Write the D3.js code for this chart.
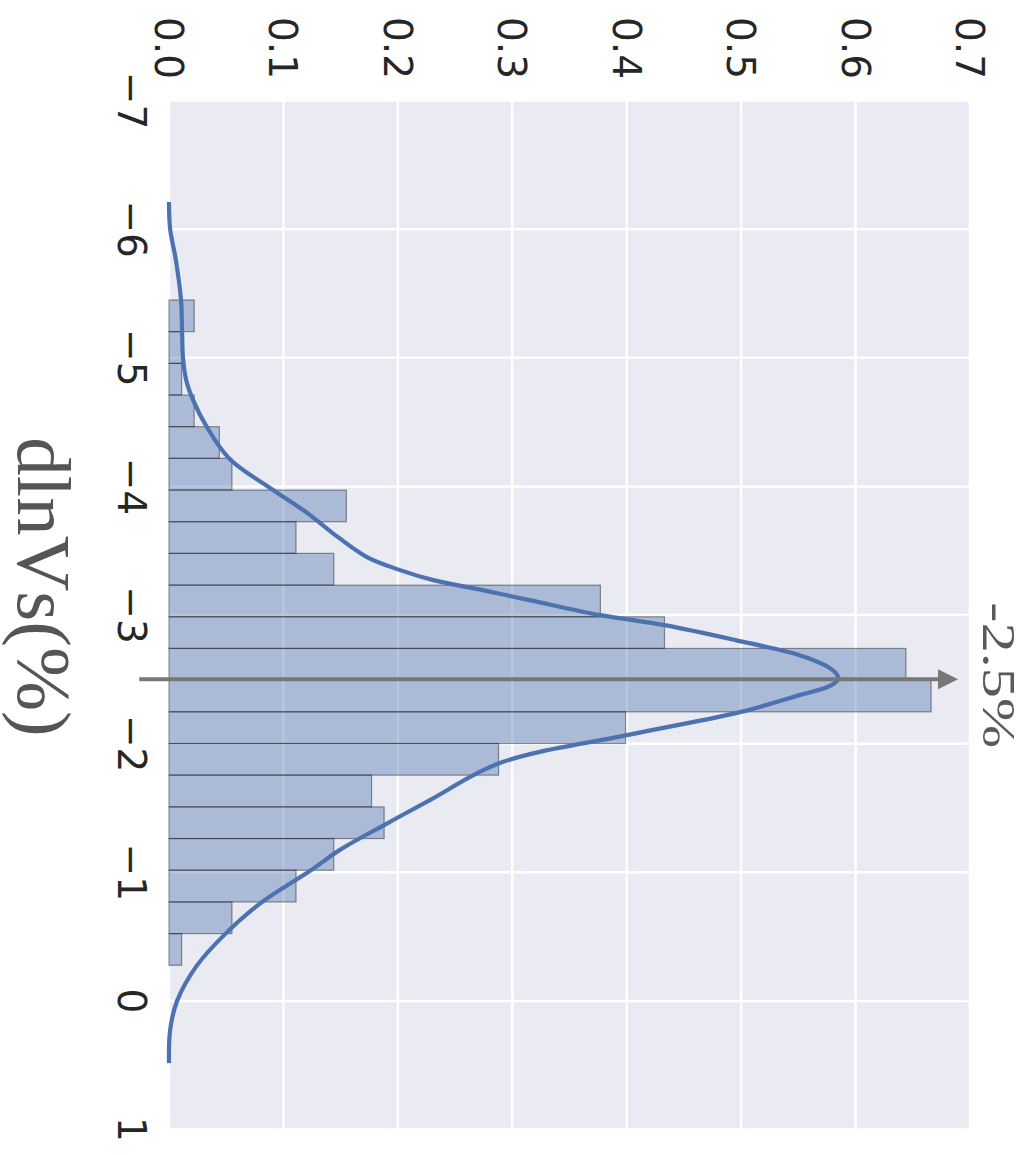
<!DOCTYPE html>
<html>
<head>
<meta charset="utf-8">
<script src="https://cdn.jsdelivr.net/npm/d3@7"></script>
<style>
  body { margin: 0; background: #fff; }
</style>
</head>
<body>
<div id="chart"></div>
<script>
// histogram of dlnVs, drawn turned a quarter turn (values run down, density runs right)

// bin edges (dlnVs, %)
var binEdges = [-5.449, -5.203, -4.956, -4.710, -4.464, -4.218, -3.971, -3.725,
                -3.479, -3.232, -2.986, -2.740, -2.493, -2.247, -2.001, -1.755,
                -1.508, -1.262, -1.016, -0.769, -0.523, -0.277];
// density for each bin
var binDensity = [0.022, 0.011, 0.011, 0.022, 0.044, 0.055, 0.155, 0.111,
                  0.144, 0.377, 0.433, 0.644, 0.666, 0.399, 0.288, 0.177,
                  0.188, 0.144, 0.111, 0.055, 0.011];

// kde curve
var kdeValue = [-6.211, -6.001, -5.760, -5.449, -5.216, -5.006, -4.827, -4.672,
                -4.462, -4.213, -3.972, -3.792, -3.637, -3.450, -3.349, -3.271,
                -3.193, -3.116, -2.999, -2.921, -2.805, -2.688, -2.610, -2.556,
                -2.509, -2.455, -2.377, -2.245, -2.066, -1.849, -1.561, -1.367,
                -1.172, -1.009, -0.760, -0.519, -0.270, 0.002, 0.227, 0.484];
var kdeDensity = [0.000, 0.001, 0.006, 0.0105, 0.0114, 0.0122, 0.015, 0.021,
                  0.033, 0.053, 0.091, 0.121, 0.143, 0.173, 0.202, 0.231,
                  0.274, 0.315, 0.377, 0.433, 0.495, 0.551, 0.573, 0.582,
                  0.585, 0.579, 0.551, 0.499, 0.400, 0.289, 0.228, 0.188,
                  0.149, 0.123, 0.080, 0.049, 0.024, 0.007, 0.001, 0.000];

var valueTicks = [-7, -6, -5, -4, -3, -2, -1, 0, 1];
var densityTicks = [0.0, 0.1, 0.2, 0.3, 0.4, 0.5, 0.6, 0.7];

var markValue = -2.5;
var markLabel = "-2.5%";
var arrowFrom = -0.026, arrowTo = 0.6895;

var width = 1036,
    height = 1155;

var svg = d3.select("#chart").append("svg")
  .attr("width", width)
  .attr("height", height);

svg.append("rect")
  .attr("width", width).attr("height", height)
  .attr("fill", "#fff");

var x = d3.scaleLinear().domain([0, 0.7]).range([169, 970]);
var y = d3.scaleLinear().domain([-7, 1]).range([100.5, 1129.5]);

// plot background
svg.append("rect")
  .attr("x", x(0)).attr("y", y(-7))
  .attr("width", x(0.7) - x(0)).attr("height", y(1) - y(-7))
  .attr("fill", "#eaeaf2");

// grid
var grid = svg.append("g").attr("stroke", "#fff").attr("stroke-width", 2.5);
grid.selectAll(".gx").data(densityTicks).enter().append("line")
  .attr("x1", function(d) { return x(d); }).attr("x2", function(d) { return x(d); })
  .attr("y1", y(-7)).attr("y2", y(1));
grid.selectAll(".gy").data(valueTicks).enter().append("line")
  .attr("y1", function(d) { return y(d); }).attr("y2", function(d) { return y(d); })
  .attr("x1", x(0)).attr("x2", x(0.7));

// bars
svg.append("g").selectAll("rect")
  .data(binDensity)
  .enter().append("rect")
  .attr("x", x(0))
  .attr("y", function(d, i) { return y(binEdges[i]); })
  .attr("width", function(d) { return x(d) - x(0); })
  .attr("height", function(d, i) { return y(binEdges[i + 1]) - y(binEdges[i]); })
  .attr("fill", "rgba(76,114,176,0.4)")
  .attr("stroke", "rgba(0,0,0,0.4)")
  .attr("stroke-width", 1.2);

// kde line
var kde = kdeValue.map(function(v, i) { return [v, kdeDensity[i]]; });
var line = d3.line()
  .x(function(d) { return x(d[1]); })
  .y(function(d) { return y(d[0]); })
  .curve(d3.curveCatmullRom);

svg.append("path")
  .datum(kde)
  .attr("d", line)
  .attr("fill", "none")
  .attr("stroke", "#4c72b0")
  .attr("stroke-width", 4.2);

// arrow at the mean
var tip = x(arrowTo), ay = y(markValue);
svg.append("line")
  .attr("x1", x(arrowFrom)).attr("x2", tip - 20)
  .attr("y1", ay).attr("y2", ay)
  .attr("stroke", "#777").attr("stroke-width", 4);
svg.append("path")
  .attr("d", "M" + tip + "," + ay + "L" + (tip - 20) + "," + (ay - 10) + "L" + (tip - 20) + "," + (ay + 10) + "Z")
  .attr("fill", "#777");

svg.append("text")
  .attr("transform", "translate(983," + (ay - 4) + ") rotate(90)")
  .attr("text-anchor", "middle")
  .attr("font-family", "Liberation Serif")
  .attr("font-size", 46)
  .attr("textLength", 146)
  .attr("lengthAdjust", "spacingAndGlyphs")
  .attr("fill", "#5a5a5a")
  .text(markLabel);

// tick labels
var fmt = d3.format(".1f");
svg.append("g").selectAll("text")
  .data(densityTicks)
  .enter().append("text")
  .attr("transform", function(d) { return "translate(" + (x(d) - 14) + ",79) rotate(90)"; })
  .attr("text-anchor", "end")
  .attr("font-family", "DejaVu Sans")
  .attr("font-size", 39)
  .attr("fill", "#262626")
  .text(function(d) { return fmt(d); });

var vfmt = y.tickFormat();
svg.append("g").selectAll("text")
  .data(valueTicks)
  .enter().append("text")
  .attr("transform", function(d) { return "translate(118," + y(d) + ") rotate(90)"; })
  .attr("text-anchor", "middle")
  .attr("font-family", "DejaVu Sans")
  .attr("font-size", 39)
  .attr("fill", "#262626")
  .text(function(d) { return vfmt(d); });

// axis label
svg.append("text")
  .attr("transform", "translate(18,587) rotate(90)")
  .attr("text-anchor", "middle")
  .attr("font-family", "Liberation Serif")
  .attr("font-size", 77)
  .attr("fill", "#555")
  .text("dlnVs(%)");
</script>
</body>
</html>
